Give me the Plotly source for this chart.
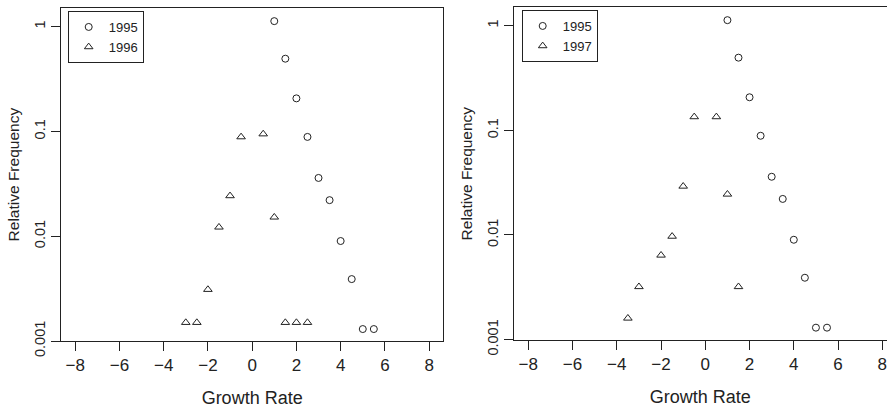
import plotly.graph_objects as go

# ---- data ----
growth_1995 = [1.0, 1.5, 2.0, 2.5, 3.0, 3.5, 4.0, 4.5, 5.0, 5.5]
freq_1995 = [1.13, 0.495, 0.207, 0.0887, 0.036, 0.0221, 0.0090, 0.0039, 0.0013, 0.0013]

growth_1996 = [-3.0, -2.5, -2.0, -1.5, -1.0, -0.5, 0.5, 1.0, 1.5, 2.0, 2.5]
freq_1996 = [0.0015, 0.0015, 0.0031, 0.0122, 0.0243, 0.0887, 0.0946, 0.0152, 0.0015, 0.0015, 0.0015]

growth_1997 = [-3.5, -3.0, -2.0, -1.5, -1.0, -0.5, 0.5, 1.0, 1.5]
freq_1997 = [0.0016, 0.0032, 0.0064, 0.0097, 0.0292, 0.1346, 0.1346, 0.0245, 0.0032]

x_ticks = [-8, -6, -4, -2, 0, 2, 4, 6, 8]
y_ticks = [0.001, 0.01, 0.1, 1]
y_ticktext = ["0.001", "0.01", "0.1", "1"]

INK = "#222222"
FONT = "Liberation Sans, Arial, Helvetica, sans-serif"
W, H = 887, 410

fig = go.Figure()

def circ(name, x, y, xa, ya, legend):
    return go.Scatter(x=x, y=y, mode="markers", name=name, xaxis=xa, yaxis=ya, legend=legend,
                      marker=dict(symbol="circle-open", size=7, color=INK, line=dict(width=1, color=INK)))

def tri(name, x, y, xa, ya, legend):
    return go.Scatter(x=x, y=y, mode="markers", name=name, xaxis=xa, yaxis=ya, legend=legend,
                      marker=dict(symbol="triangle-up-open", size=7.5, color=INK, line=dict(width=1, color=INK)))

fig.add_trace(circ("1995", growth_1995, freq_1995, "x", "y", "legend"))
fig.add_trace(tri("1996", growth_1996, freq_1996, "x", "y", "legend"))
fig.add_trace(circ("1995", growth_1995, freq_1995, "x2", "y2", "legend2"))
fig.add_trace(tri("1997", growth_1997, freq_1997, "x2", "y2", "legend2"))

def xaxis(domain, rng, anchor):
    return dict(domain=domain, range=rng, anchor=anchor, tickvals=x_ticks,
                showline=True, linecolor=INK, linewidth=1, mirror=True,
                ticks="outside", ticklen=9, tickcolor=INK, tickwidth=1,
                showgrid=False, zeroline=False, ticklabelstandoff=0,
                ticklabeloverflow="allow",
                tickfont=dict(family=FONT, size=17, color=INK),
                title=dict(text="Growth Rate", font=dict(family=FONT, size=18, color=INK), standoff=16),
                automargin=False)

def yaxis(domain, rng, anchor):
    return dict(domain=domain, range=rng, anchor=anchor, type="log",
                tickvals=y_ticks, ticktext=y_ticktext, tickangle=-90,
                showline=True, linecolor=INK, linewidth=1, mirror=True,
                ticks="outside", ticklen=9, tickcolor=INK, tickwidth=1,
                showgrid=False, zeroline=False,
                tickfont=dict(family=FONT, size=14.5, color=INK),
                title=dict(text="Relative Frequency", font=dict(family=FONT, size=15.5, color=INK), standoff=8),
                automargin=False)

legend_style = dict(bordercolor=INK, borderwidth=1, bgcolor="white",
                    font=dict(family=FONT, size=13, color=INK),
                    xanchor="left", yanchor="top", tracegroupgap=0, itemwidth=30)

fig.update_layout(
    width=W, height=H,
    margin=dict(l=0, r=0, t=0, b=0),
    paper_bgcolor="white", plot_bgcolor="white",
    xaxis=xaxis([61 / W, 443.3 / W], [-8.64, 8.64], "y"),
    yaxis=yaxis([1 - 341 / H, 1 - 8.3 / H], [-3, 0.1756], "x"),
    xaxis2=xaxis([513.5 / W, 1.0], [-8.669, 8.212], "y2"),
    yaxis2=yaxis([1 - 340 / H, 1 - 7.3 / H], [-3.004, 0.176], "x2"),
    legend=dict(x=67.7 / W, y=1 - 11 / H, **legend_style),
    legend2=dict(x=521.7 / W, y=1 - 10 / H, **legend_style),
    showlegend=True,
)

fig.write_html("out.html")
